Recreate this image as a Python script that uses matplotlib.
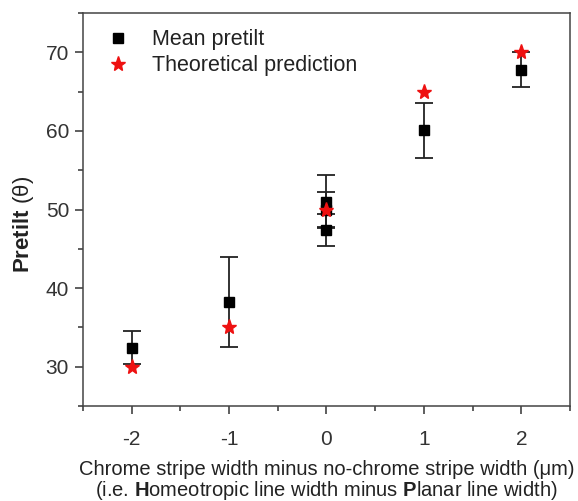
import matplotlib
matplotlib.use("Agg")
import matplotlib.pyplot as plt
from matplotlib.lines import Line2D
from matplotlib.ticker import MultipleLocator

plt.rcParams["font.family"] = ["Liberation Sans", "DejaVu Sans"]
plt.rcParams["mathtext.fontset"] = "custom"
plt.rcParams["mathtext.rm"] = "Liberation Sans"
plt.rcParams["mathtext.bf"] = "Liberation Sans:bold"

# measured pretilt (mean and error) per width difference
width_diff = [-2, -1, 0, 0, 0, 1, 2]
mean_pretilt = [32.4, 38.2, 51.0, 50.0, 47.4, 60.1, 67.8]
pretilt_err = [2.1, 5.7, 3.4, 2.2, 2.0, 3.5, 2.2]

# theoretical prediction
theory_x = [-2, -1, 0, 1, 2]
theory_y = [30, 35, 50, 65, 70]

text_col = "#333333"

fig = plt.figure(figsize=(5.78, 5.01), dpi=100)
ax = fig.add_axes([0.1436, 0.1896, 0.8425, 0.7844])

ax.errorbar(width_diff, mean_pretilt, yerr=pretilt_err, fmt="s", color="black",
            ecolor="#222222", elinewidth=1.3, capsize=6.5, capthick=1.3,
            markersize=7, zorder=2)
ax.plot(theory_x, theory_y, "*", color="#ee1111", markersize=11,
        linestyle="none", zorder=3)

ax.set_xlim(-2.5, 2.5)
ax.set_ylim(25, 75)
ax.xaxis.set_major_locator(MultipleLocator(1))
ax.xaxis.set_minor_locator(MultipleLocator(0.5))
ax.yaxis.set_major_locator(MultipleLocator(10))
ax.yaxis.set_minor_locator(MultipleLocator(5))
ax.set_xticks([-2, -1, 0, 1, 2])
ax.set_xticklabels(["-2", "-1", "0", "1", "2"])

ax.tick_params(which="both", direction="out", colors=text_col, labelsize=15,
               top=False, right=False, width=1.1)
ax.tick_params(which="major", length=6)
ax.tick_params(axis="x", which="major", pad=11)
ax.tick_params(axis="y", which="major", pad=4)
ax.tick_params(which="minor", length=3.5)
for sp in ax.spines.values():
    sp.set_color("#444444")
    sp.set_linewidth(1.1)

ax.set_ylabel("$\\mathbf{Pretilt}$ (\u03b8)", fontsize=16, color="#222222")
ax.yaxis.set_label_coords(-0.096, 0.463)
ax.set_xlabel("Chrome stripe width minus no-chrome stripe width (\u03bcm)\n"
              "(i.e. $\\mathbf{H}$omeotropic line width minus $\\mathbf{P}$lanar line width)",
              fontsize=14.5, color="#222222", labelpad=8, linespacing=1.0)

handles = [
    Line2D([], [], marker="s", color="black", linestyle="none", markersize=7),
    Line2D([], [], marker="*", color="#ee1111", linestyle="none", markersize=11),
]
leg = ax.legend(handles, ["Mean pretilt", "Theoretical prediction"],
                loc="upper left", bbox_to_anchor=(0.032, 0.981), frameon=False,
                fontsize=15.5, handlelength=1.0, handletextpad=1.08,
                borderaxespad=0, borderpad=0.4, labelspacing=0.25)
for t in leg.get_texts():
    t.set_color("#222222")

fig.savefig("out.png", dpi=100)
plt.close(fig)
